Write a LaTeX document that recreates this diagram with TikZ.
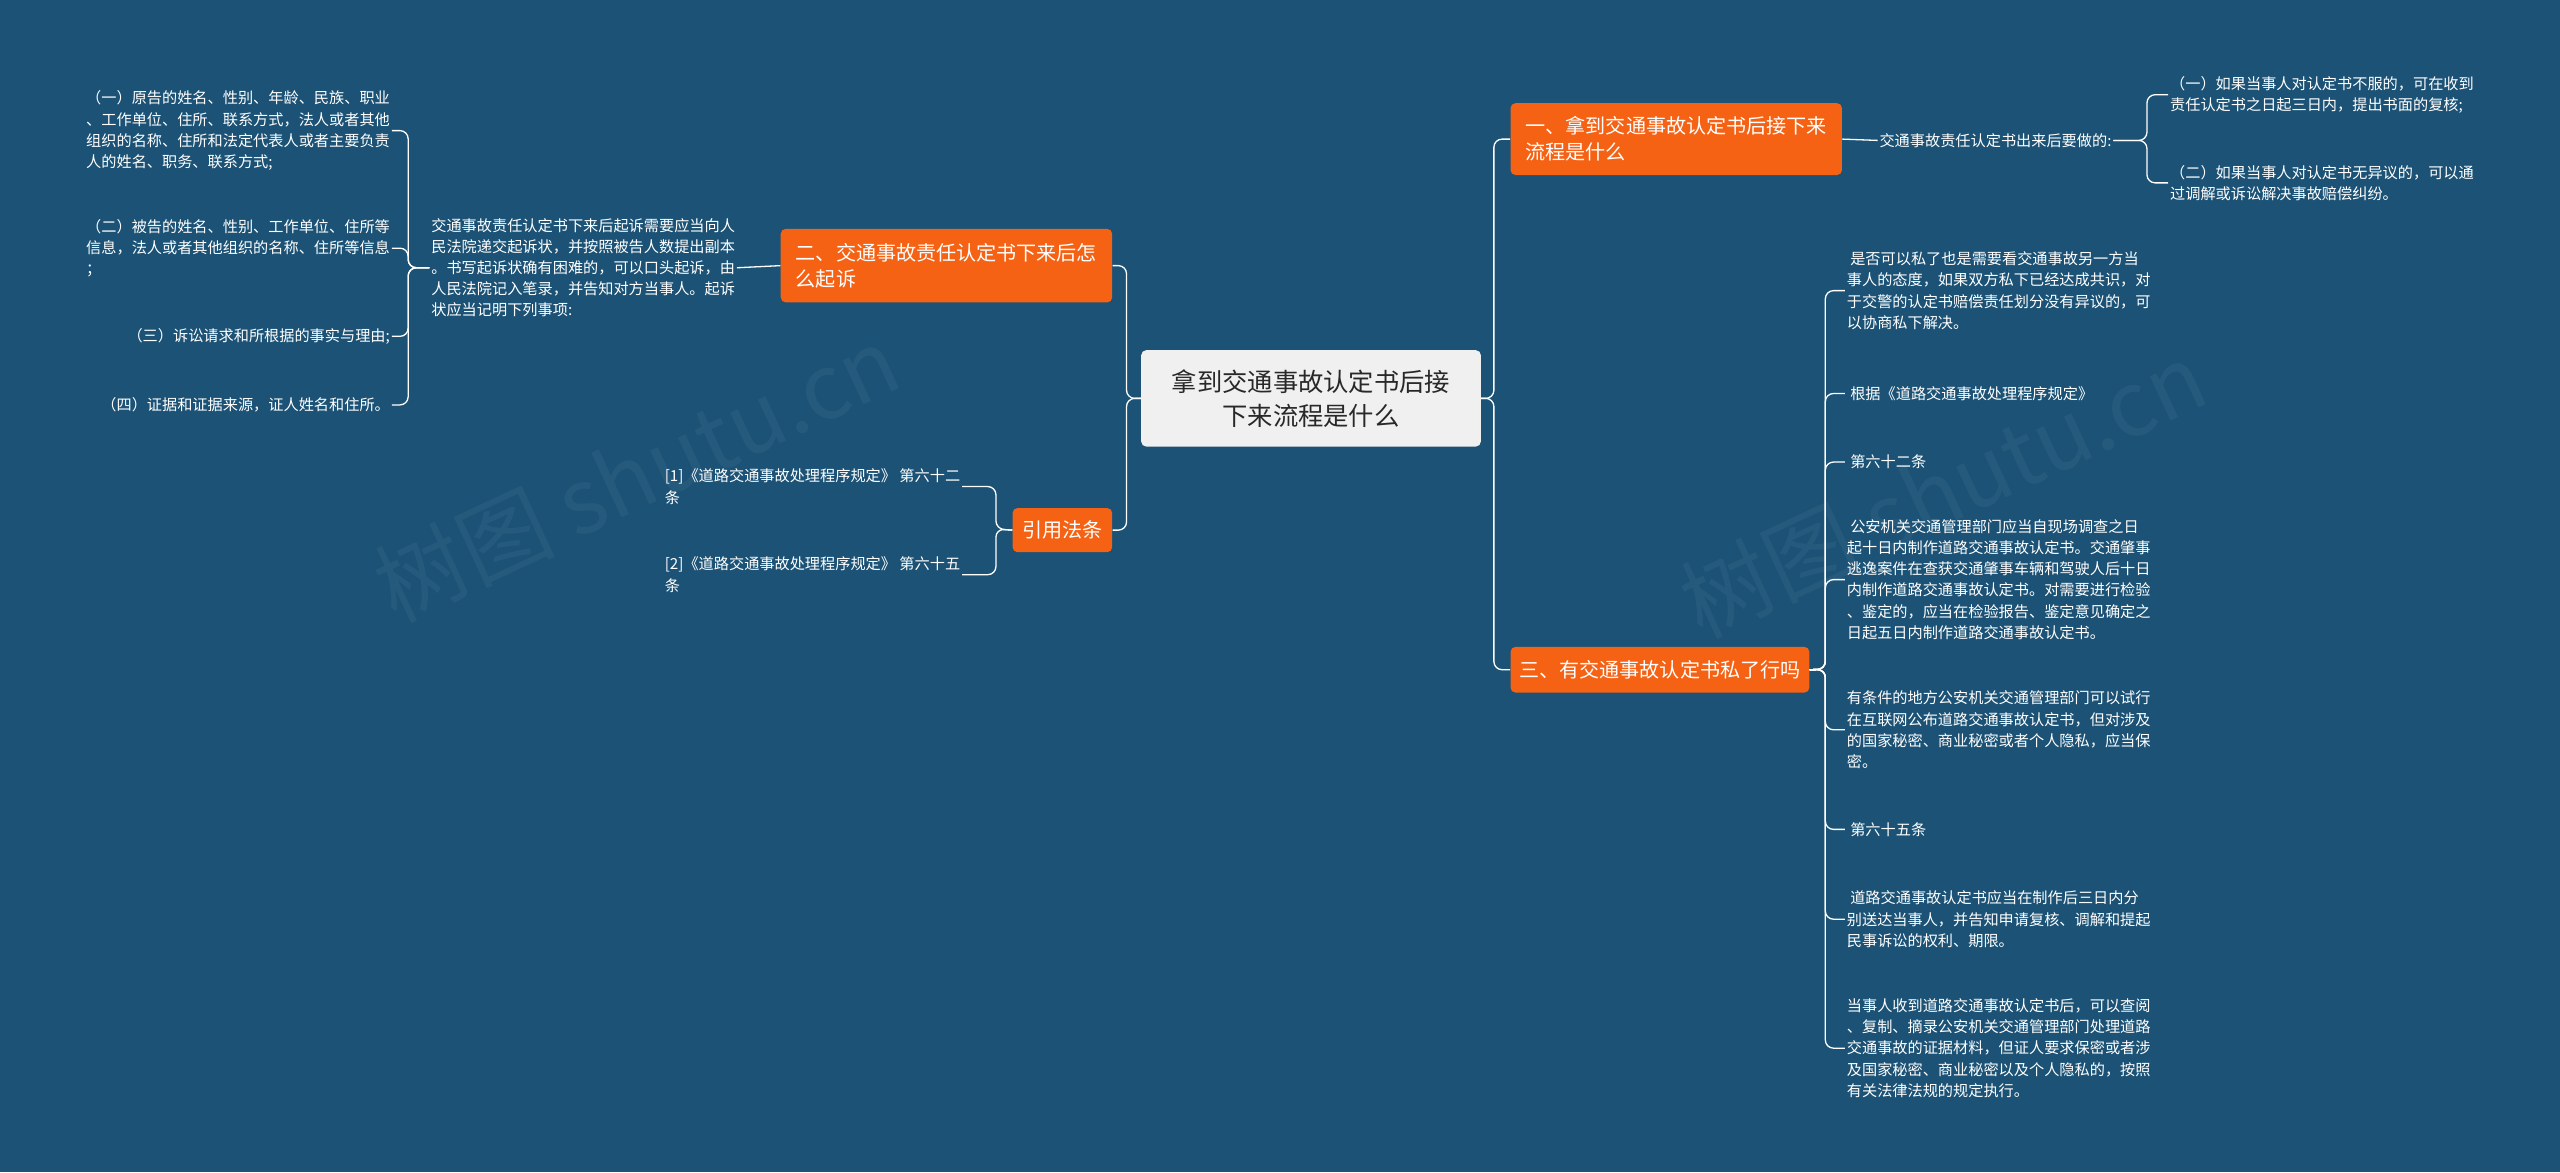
\documentclass[tikz,border=0pt]{standalone}
\usepackage{fontspec}
\setmainfont{Noto Sans CJK SC}
\definecolor{bg}{RGB}{27,82,117}
\definecolor{og}{RGB}{245,98,20}
\definecolor{cg}{RGB}{240,240,240}
\definecolor{ct}{RGB}{40,40,40}
\begin{document}
\begin{tikzpicture}[x=1pt,y=-1pt,
 line/.style={draw=white,line width=0.8pt,rounded corners=5pt},
 org/.style={fill=og,text=white,rounded corners=3pt,font=\fontsize{12.3}{16}\selectfont,align=left,inner sep=5pt,anchor=north west,minimum height=28pt},
 txt/.style={text=white,font=\fontsize{9.3}{13}\selectfont,align=left,inner sep=1pt}]
\fill[bg] (0,0) rectangle (1568,718);
\useasboundingbox (0,0) rectangle (1568,718);
\foreach \p in {(390,290),(1190,300)}
 \node[rotate=25,text=white,opacity=0.05,font=\fontsize{55}{60}\selectfont] at \p {树图 shutu.cn};
\node[fill=cg,rounded corners=3pt,text=ct,font=\fontsize{15.5}{21}\selectfont,align=center,minimum width=208pt,minimum height=59pt,inner sep=3pt] (c) at (803,244) {拿到交通事故认定书后接\\下来流程是什么};
% right branch 1
\node[org,minimum width=203pt,minimum height=44pt] (r1) at (925,63) {一、拿到交通事故认定书后接下来\\流程是什么};
\node[txt,anchor=west] (r1t) at (1150,86) {交通事故责任认定书出来后要做的:};
\node[txt,anchor=west] (r1a) at (1328,58) {（一）如果当事人对认定书不服的，可在收到\\责任认定书之日起三日内，提出书面的复核;};
\node[txt,anchor=west] (r1b) at (1328,112) {（二）如果当事人对认定书无异议的，可以通\\过调解或诉讼解决事故赔偿纠纷。};
\draw[line] (r1.east) -- (r1t.west);
\foreach \k in {r1a,r1b} \draw[line] (r1t.east) -- (1315,86) |- (\k.west);
% right branch 3
\node[org,minimum width=183pt] (r3) at (925,396) {三、有交通事故认定书私了行吗};
\foreach \n/\y/\t in {
 a/178/{\ 是否可以私了也是需要看交通事故另一方当\\事人的态度，如果双方私下已经达成共识，对\\于交警的认定书赔偿责任划分没有异议的，可\\以协商私下解决。},
 b/241/{\ 根据《道路交通事故处理程序规定》},
 c/283/{\ 第六十二条},
 d/355/{\ 公安机关交通管理部门应当自现场调查之日\\起十日内制作道路交通事故认定书。交通肇事\\逃逸案件在查获交通肇事车辆和驾驶人后十日\\内制作道路交通事故认定书。对需要进行检验\\、鉴定的，应当在检验报告、鉴定意见确定之\\日起五日内制作道路交通事故认定书。},
 e/447/{有条件的地方公安机关交通管理部门可以试行\\在互联网公布道路交通事故认定书，但对涉及\\的国家秘密、商业秘密或者个人隐私，应当保\\密。},
 f/508/{\ 第六十五条},
 g/563/{\ 道路交通事故认定书应当在制作后三日内分\\别送达当事人，并告知申请复核、调解和提起\\民事诉讼的权利、期限。},
 h/642/{当事人收到道路交通事故认定书后，可以查阅\\、复制、摘录公安机关交通管理部门处理道路\\交通事故的证据材料，但证人要求保密或者涉\\及国家秘密、商业秘密以及个人隐私的，按照\\有关法律法规的规定执行。}}
 {\node[txt,anchor=west] (r3\n) at (1130,\y) {\t};
  \draw[line] (r3.east) -- (1118,410) |- (r3\n.west);}
% left branch 2
\node[org,minimum width=203pt,minimum height=45pt] (l2) at (478,140) {二、交通事故责任认定书下来后怎\\么起诉};
\node[txt,anchor=west] (l2t) at (263,164) {交通事故责任认定书下来后起诉需要应当向人\\民法院递交起诉状，并按照被告人数提出副本\\。书写起诉状确有困难的，可以口头起诉，由\\人民法院记入笔录，并告知对方当事人。起诉\\状应当记明下列事项:};
\draw[line] (l2.west) -- (l2t.east);
\foreach \n/\y/\t in {
 a/80/{（一）原告的姓名、性别、年龄、民族、职业\\、工作单位、住所、联系方式，法人或者其他\\组织的名称、住所和法定代表人或者主要负责\\人的姓名、职务、联系方式;},
 b/152/{（二）被告的姓名、性别、工作单位、住所等\\信息，法人或者其他组织的名称、住所等信息\\；},
 c/206/{（三）诉讼请求和所根据的事实与理由;},
 d/248/{（四）证据和证据来源，证人姓名和住所。}}
 {\node[txt,anchor=east] (l2\n) at (240,\y) {\t};
  \draw[line] (l2t.west) -- (250,164) |- (l2\n.east);}
% left branch cite
\node[org,minimum width=61pt,minimum height=27pt] (l4) at (620,311) {引用法条};
\node[txt,anchor=west] (l4a) at (406,298) {[1]《道路交通事故处理程序规定》 第六十二\\条};
\node[txt,anchor=west] (l4b) at (406,352) {[2]《道路交通事故处理程序规定》 第六十五\\条};
\foreach \k in {l4a,l4b} \draw[line] (l4.west) -- (610,324) |- (\k.east);
% center connectors
\draw[line] (c.west) -- (690,244) |- (l2.east);
\draw[line] (c.west) -- (690,244) |- (l4.east);
\draw[line] (c.east) -- (915,244) |- (r1.west);
\draw[line] (c.east) -- (915,244) |- (r3.west);
\end{tikzpicture}
\end{document}
